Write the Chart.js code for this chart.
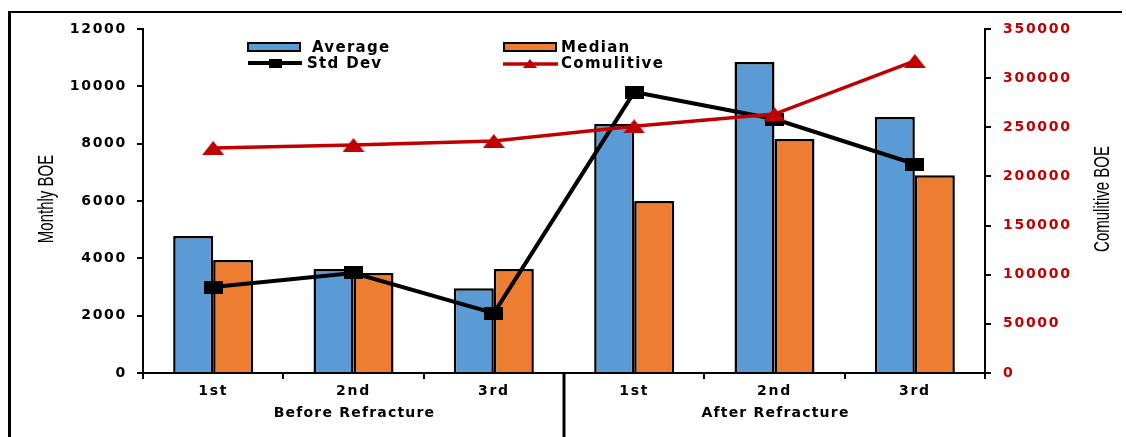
<!DOCTYPE html>
<html>
<head>
<meta charset="utf-8">
<script src="https://cdn.jsdelivr.net/npm/chart.js@4/dist/chart.umd.min.js"></script>
<style>
  html, body { margin: 0; padding: 0; background: #ffffff; }
  #wrap { position: relative; width: 1126px; height: 437px; }
</style>
</head>
<body>
<div id="wrap"><canvas id="chart" width="1126" height="437"></canvas></div>
<script>
// Production per refracture stage
const categories = ['1st', '2nd', '3rd', '1st', '2nd', '3rd'];
const groups = ['Before Refracture', 'After Refracture'];
const average = [4780, 3630, 2960, 8690, 10850, 8930];
const median = [3940, 3490, 3630, 6000, 8160, 6900];
const stdDev = [3000, 3490, 2090, 9800, 8860, 7290];
const cumulative = [229000, 232000, 236000, 251000, 263500, 317500];
const leftTicks = [0, 2000, 4000, 6000, 8000, 10000, 12000];
const rightTicks = [0, 50000, 100000, 150000, 200000, 250000, 300000, 350000];

const BLUE = '#5B9BD5';
const ORANGE = '#ED7D31';
const RED = '#C00000';
const FONT = "'DejaVu Sans', 'Liberation Sans', Arial, sans-serif";
const TITLE_FONT = "'Liberation Sans', Arial, sans-serif";
const STRETCH = 1.45;

function rectMarker(w, h, color) {
  const c = document.createElement('canvas');
  c.width = w; c.height = h;
  const g = c.getContext('2d');
  g.fillStyle = color;
  g.fillRect(0, 0, w, h);
  return c;
}
function triMarker(w, h, color) {
  const c = document.createElement('canvas');
  c.width = w; c.height = h;
  const g = c.getContext('2d');
  g.fillStyle = color;
  g.beginPath();
  g.moveTo(w / 2, 0);
  g.lineTo(w, h);
  g.lineTo(0, h);
  g.closePath();
  g.fill();
  return c;
}
const squareMark = rectMarker(19, 13, '#000000');
const triMark = triMarker(22, 14, RED);
const squareMarkSmall = rectMarker(13, 9, '#000000');
const triMarkSmall = triMarker(14, 9, RED);

const plainNumber = v => String(v);

// Frame, legend, axis titles, group labels and separator
const decorations = {
  id: 'decorations',
  beforeDraw(chart) {
    chart.ctx.letterSpacing = '1.7px';
  },
  afterDraw(chart) {
    const ctx = chart.ctx;
    const x = chart.scales.x;
    const y = chart.scales.y;
    ctx.save();
    ctx.letterSpacing = '0px';

    // outer frame
    ctx.strokeStyle = '#000';
    ctx.lineWidth = 2;
    ctx.beginPath();
    ctx.moveTo(8, 12); ctx.lineTo(1122, 12);
    ctx.stroke();
    ctx.lineWidth = 3;
    ctx.beginPath();
    ctx.moveTo(9.5, 12); ctx.lineTo(9.5, 437);
    ctx.stroke();

    // separator between the two groups
    const sepX = x.getPixelForValue(2.5);
    ctx.lineWidth = 3;
    ctx.beginPath();
    ctx.moveTo(sepX, y.bottom); ctx.lineTo(sepX, 437);
    ctx.stroke();

    // group labels
    ctx.fillStyle = '#000';
    ctx.font = 'bold 14px ' + FONT;
    ctx.letterSpacing = '1.2px';
    ctx.textAlign = 'center';
    ctx.textBaseline = 'middle';
    ctx.fillText(groups[0], x.getPixelForValue(1) + 1, 413);
    ctx.fillText(groups[1], x.getPixelForValue(4) + 1, 413);

    // axis titles
    ctx.letterSpacing = '0px';
    ctx.font = '15px ' + TITLE_FONT;
    const cy = 199;
    ctx.save();
    ctx.translate(47, cy);
    ctx.scale(STRETCH, 1);
    ctx.rotate(-Math.PI / 2);
    ctx.fillText('Monthly BOE', 0, 0);
    ctx.restore();
    ctx.save();
    ctx.translate(1103, cy);
    ctx.scale(STRETCH, 1);
    ctx.rotate(-Math.PI / 2);
    ctx.fillText('Comulitive BOE', 0, 0);
    ctx.restore();

    // legend
    const ds = chart.data.datasets;
    ctx.font = 'bold 15px ' + FONT;
    ctx.letterSpacing = '1.3px';
    ctx.textAlign = 'left';
    ctx.lineWidth = 2;
    const swatch = (sx, color) => {
      ctx.fillStyle = color;
      ctx.fillRect(sx, 43, 52, 8);
      ctx.strokeStyle = '#000';
      ctx.strokeRect(sx, 43, 52, 8);
    };
    swatch(248, ds[0].backgroundColor);
    swatch(504, ds[1].backgroundColor);
    ctx.fillStyle = '#000';
    ctx.fillText(ds[0].label, 312, 48);
    ctx.fillText(ds[1].label, 561, 48);

    ctx.lineWidth = 4;
    ctx.strokeStyle = ds[2].borderColor;
    ctx.beginPath(); ctx.moveTo(248, 63); ctx.lineTo(302, 63); ctx.stroke();
    ctx.drawImage(squareMarkSmall, 275 - 6.5, 63 - 4.5);
    ctx.lineWidth = 3.5;
    ctx.strokeStyle = ds[3].borderColor;
    ctx.beginPath(); ctx.moveTo(503, 64); ctx.lineTo(558, 64); ctx.stroke();
    ctx.drawImage(triMarkSmall, 530 - 7, 64 - 5);
    ctx.fillStyle = '#000';
    ctx.fillText(ds[2].label, 307, 64);
    ctx.fillText(ds[3].label, 561, 64);

    ctx.restore();
  }
};

new Chart(document.getElementById('chart'), {
  type: 'bar',
  data: {
    labels: categories,
    datasets: [
      { label: 'Average', data: average, backgroundColor: BLUE, borderColor: '#000',
        borderWidth: 2.5, yAxisID: 'y', order: 3,
        categoryPercentage: 0.57, barPercentage: 1.0 },
      { label: 'Median', data: median, backgroundColor: ORANGE, borderColor: '#000',
        borderWidth: 2.5, yAxisID: 'y', order: 3,
        categoryPercentage: 0.57, barPercentage: 1.0 },
      { type: 'line', label: 'Std Dev', data: stdDev, borderColor: '#000', borderWidth: 4,
        pointStyle: squareMark, pointRadius: 8, yAxisID: 'y', order: 2, tension: 0 },
      { type: 'line', label: 'Comulitive', data: cumulative, borderColor: RED, borderWidth: 3.5,
        pointStyle: triMark, pointRadius: 8, yAxisID: 'y1', order: 1, tension: 0 }
    ]
  },
  options: {
    responsive: false,
    animation: false,
    devicePixelRatio: 1,
    layout: { padding: { top: 29, left: 0, right: 0, bottom: 0 } },
    plugins: { legend: { display: false }, tooltip: { enabled: false }, title: { display: false } },
    scales: {
      x: {
        offset: true,
        grid: { display: true, drawOnChartArea: false, drawTicks: true, tickLength: 6, color: '#000', lineWidth: 2, offset: true },
        border: { display: true, color: '#000', width: 2 },
        ticks: { color: '#000', font: { family: FONT, size: 14, weight: 'bold' }, padding: 4, maxRotation: 0, autoSkip: false },
        afterFit(s) { s.height = 64; }
      },
      y: {
        position: 'left',
        min: leftTicks[0], max: leftTicks[leftTicks.length - 1],
        afterBuildTicks(s) { s.ticks = leftTicks.map(v => ({ value: v })); },
        grid: { display: true, drawOnChartArea: false, drawTicks: true, tickLength: 6, color: '#000', lineWidth: 2 },
        border: { display: true, color: '#000', width: 2 },
        ticks: { color: '#000', font: { family: FONT, size: 14, weight: 'bold' }, padding: 10, callback: plainNumber },
        afterFit(s) { s.width = 143; }
      },
      y1: {
        position: 'right',
        min: rightTicks[0], max: rightTicks[rightTicks.length - 1],
        afterBuildTicks(s) { s.ticks = rightTicks.map(v => ({ value: v })); },
        grid: { display: true, drawOnChartArea: false, drawTicks: true, tickLength: 6, color: '#000', lineWidth: 2 },
        border: { display: true, color: '#000', width: 2 },
        ticks: { color: RED, font: { family: FONT, size: 14, weight: 'bold' }, padding: 12, callback: plainNumber },
        afterFit(s) { s.width = 141; }
      }
    }
  },
  plugins: [decorations]
});
</script>
</body>
</html>
